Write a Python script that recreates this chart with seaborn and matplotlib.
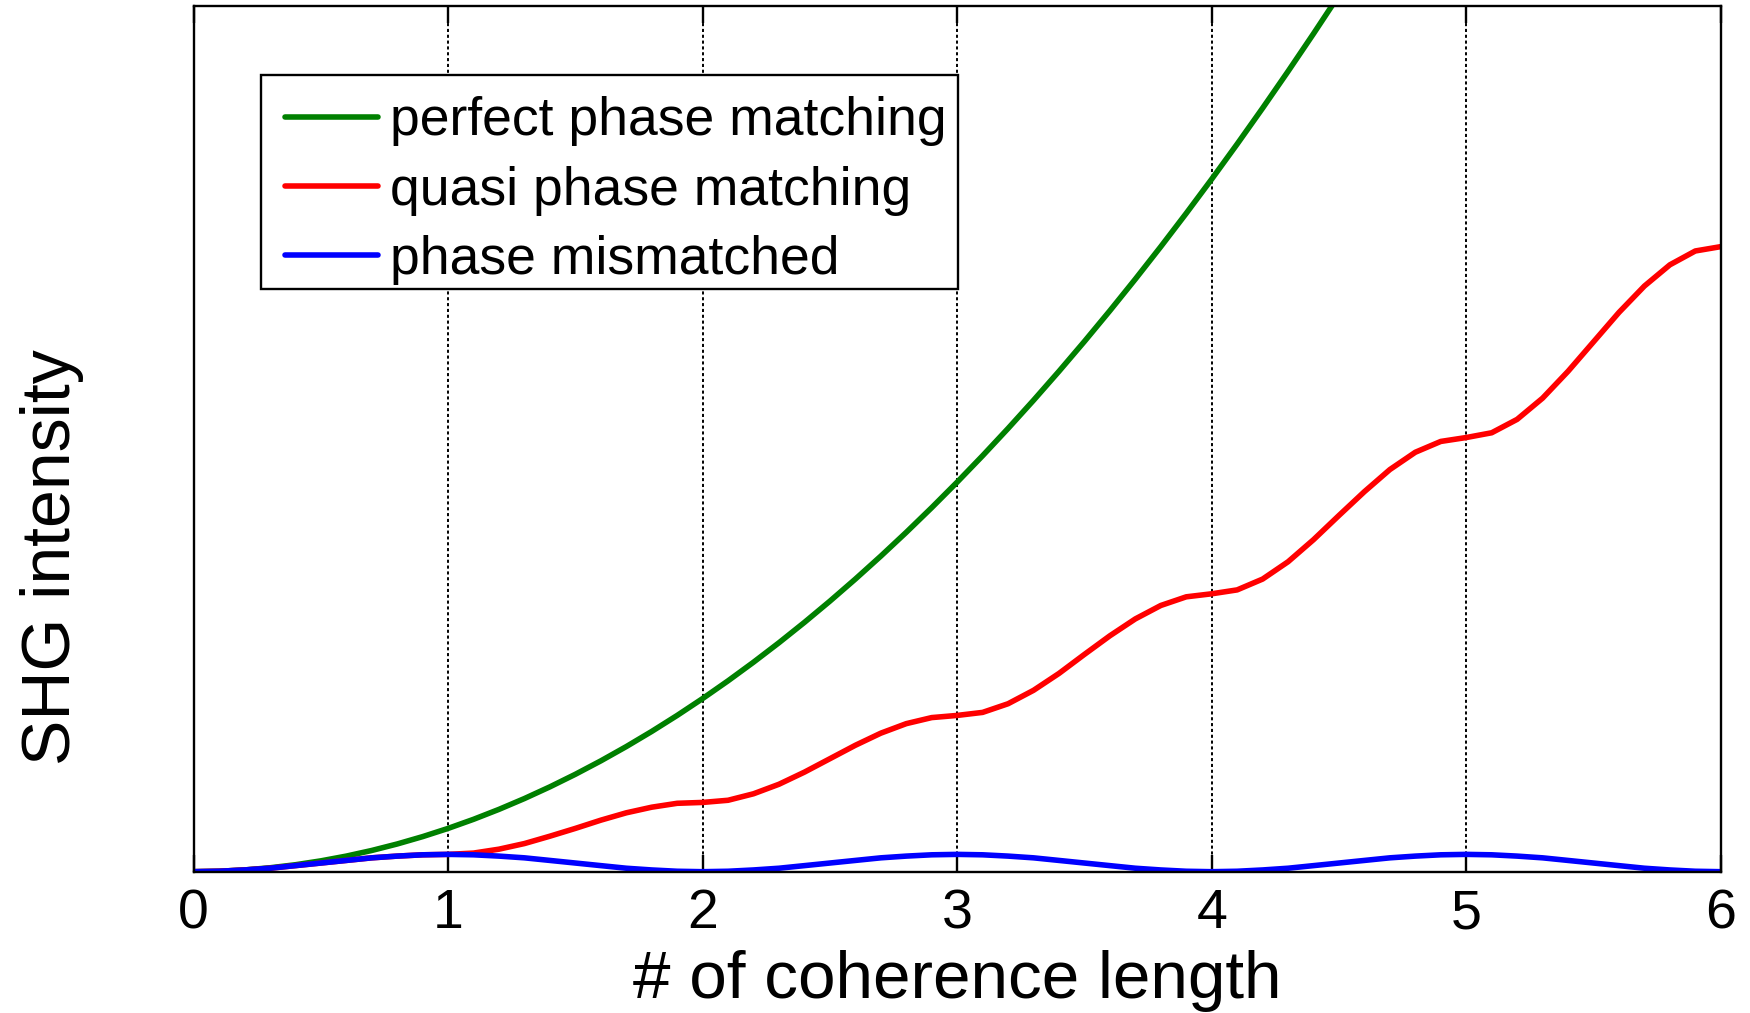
import numpy as np
import pandas as pd
import matplotlib
matplotlib.use("Agg")
import matplotlib.pyplot as plt
from matplotlib.patches import Rectangle
import seaborn as sns

# ---- data (x in coherence lengths, step 0.1) ----
x_full = [round(0.1 * i, 1) for i in range(61)]
x_green = [round(0.1 * i, 1) for i in range(47)]

perfect = [0.00, 0.01, 0.04, 0.09, 0.16, 0.25, 0.36, 0.49, 0.64, 0.81,
           1.00, 1.21, 1.44, 1.69, 1.96, 2.25, 2.56, 2.89, 3.24, 3.61,
           4.00, 4.41, 4.84, 5.29, 5.76, 6.25, 6.76, 7.29, 7.84, 8.41,
           9.00, 9.61, 10.24, 10.89, 11.56, 12.25, 12.96, 13.69, 14.44, 15.21,
           16.00, 16.81, 17.64, 18.49, 19.36, 20.25, 21.16]

quasi = [0.00, 0.01, 0.04, 0.08, 0.14, 0.20, 0.26, 0.32, 0.36, 0.39,
         0.40, 0.43, 0.52, 0.65, 0.82, 1.00, 1.19, 1.36, 1.49, 1.58,
         1.60, 1.65, 1.80, 2.02, 2.30, 2.61, 2.92, 3.20, 3.42, 3.56,
         3.61, 3.68, 3.88, 4.19, 4.58, 5.02, 5.45, 5.84, 6.15, 6.35,
         6.42, 6.51, 6.76, 7.16, 7.67, 8.23, 8.78, 9.29, 9.69, 9.94,
         10.03, 10.14, 10.45, 10.94, 11.56, 12.24, 12.92, 13.53, 14.02, 14.34,
         14.44]

mismatched = [0.00, 0.01, 0.04, 0.08, 0.14, 0.20, 0.26, 0.32, 0.36, 0.39,
              0.40, 0.39, 0.36, 0.32, 0.26, 0.20, 0.14, 0.08, 0.04, 0.01,
              0.00, 0.01, 0.04, 0.08, 0.14, 0.20, 0.26, 0.32, 0.36, 0.39,
              0.40, 0.39, 0.36, 0.32, 0.26, 0.20, 0.14, 0.08, 0.04, 0.01,
              0.00, 0.01, 0.04, 0.08, 0.14, 0.20, 0.26, 0.32, 0.36, 0.39,
              0.40, 0.39, 0.36, 0.32, 0.26, 0.20, 0.14, 0.08, 0.04, 0.01,
              0.00]

series_names = ["perfect phase matching", "quasi phase matching", "phase mismatched"]
series_colors = ["#008000", "#ff0000", "#0000ff"]
x_ticks = [0, 1, 2, 3, 4, 5, 6]
x_label = "# of coherence length"
y_label = "SHG intensity"

df = pd.concat([
    pd.DataFrame({"x": x_green, "y": perfect, "series": series_names[0]}),
    pd.DataFrame({"x": x_full, "y": quasi, "series": series_names[1]}),
    pd.DataFrame({"x": x_full, "y": mismatched, "series": series_names[2]}),
], ignore_index=True)

sns.set_style("white")
plt.rcParams["font.family"] = ["Liberation Sans", "DejaVu Sans"]
plt.rcParams["text.color"] = "black"
plt.rcParams["axes.labelcolor"] = "black"
plt.rcParams["xtick.color"] = "black"
plt.rcParams["ytick.color"] = "black"

fig = plt.figure(figsize=(17.5, 10.13), dpi=100)
ax = fig.add_axes([0.1106, 0.1395, 0.9833 - 0.1106, 0.9941 - 0.1395])

sns.lineplot(data=df, x="x", y="y", hue="series", hue_order=series_names,
             palette=dict(zip(series_names, series_colors)), linewidth=4,
             estimator=None, sort=False, ax=ax)

ax.set_xlim(0, 6)
ax.set_ylim(0, 20)
ax.set_xticks(x_ticks)
ax.set_xticklabels([str(t) for t in x_ticks], fontsize=40, color="black")
ax.set_yticks([])
ax.tick_params(axis="x", direction="in", top=True, bottom=True, length=12,
               width=1.7, pad=12, colors="black")
for s in ax.spines.values():
    s.set_color("black")
    s.set_linewidth(1.7)

for t in x_ticks[1:-1]:
    ax.axvline(t, color="black", linestyle=(0, (1.6, 1.4)), linewidth=1.4, zorder=0)

ax.set_xlabel(x_label, fontsize=48.5, color="black")
ax.set_ylabel(y_label, fontsize=49, color="black")
ax.xaxis.set_label_coords(0.5, -0.091)
ax.yaxis.set_label_coords(-0.072, 0.3635)

# legend box (drawn as a plain rectangle to match the reference's tight frame)
box = Rectangle((0.0442, 0.6731), 0.5006 - 0.0442, 0.9203 - 0.6731,
                transform=ax.transAxes, facecolor="white", edgecolor="black",
                linewidth=1.7, zorder=4)
ax.add_patch(box)

handles, labels = ax.get_legend_handles_labels()
leg = ax.legend(handles, labels, loc="upper left", bbox_to_anchor=(0.0456, 0.9203),
                borderaxespad=0, fontsize=38.5, frameon=False,
                handlelength=1.75, handletextpad=0.22,
                labelspacing=0.36, borderpad=0.4)
leg.set_zorder(5)
for txt in leg.get_texts():
    txt.set_color("black")
for h in leg.get_lines():
    h.set_linewidth(4)

fig.savefig("out.png", dpi=100)
